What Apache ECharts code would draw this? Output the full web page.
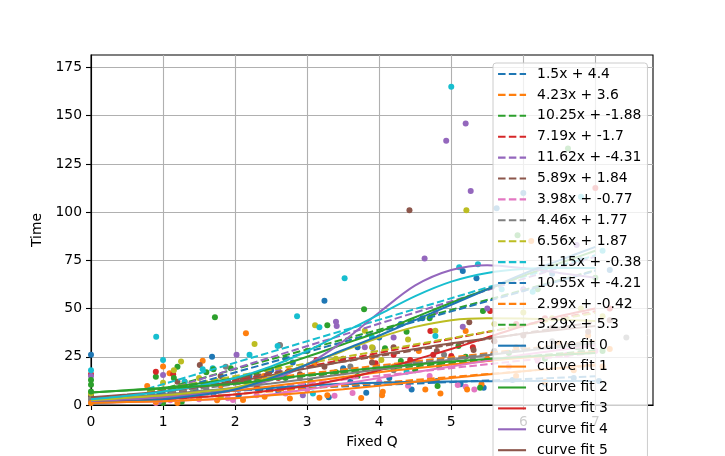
<!DOCTYPE html>
<html>
<head>
<meta charset="utf-8">
<script src="https://cdn.jsdelivr.net/npm/echarts@6/dist/echarts.min.js"></script>
<style>
    html, body { margin: 0; padding: 0; overflow: hidden; background: #fff; }
    #main { width: 725px; height: 640px; }
</style>
</head>
<body>
<div id="main"></div>
<script>
// tab10 colours, one per data set
var colors = ['#1f77b4', '#ff7f0e', '#2ca02c', '#d62728', '#9467bd', '#8c564b', '#e377c2',
              '#7f7f7f', '#bcbd22', '#17becf', '#1f77b4', '#ff7f0e', '#2ca02c'];

// linear fits (legend text)
var slopes = [1.5, 4.23, 10.25, 7.19, 11.62, 5.89, 3.98, 4.46, 6.56, 11.15, 10.55, 2.99, 3.29];
var intercepts = [4.4, 3.6, -1.88, -1.7, -4.31, 1.84, -0.77, 1.77, 1.87, -0.38, -4.21, -0.42, 5.3];
var fitRange = [0.78, 7.0];

// tick labels
var xTicks = [0, 1, 2, 3, 4, 5, 6, 7];
var yTicks = [0, 25, 50, 75, 100, 125, 150, 175];

var curveX = [0, 0.5, 1, 1.5, 2, 2.5, 3, 3.5, 4, 4.5, 5, 5.5, 6, 6.5, 7];
var curve0 = [3.5, 4.2, 5, 6.2, 7.5, 8.8, 10, 11, 11.6, 12, 12.2, 12.3, 12.4, 12.4, 12.4];
var curve1 = [2.5, 3.2, 4, 5.6, 7.5, 9.7, 12, 14.5, 17, 19, 21, 22.8, 24.5, 26, 27.5];
var curve2 = [6.5, 7.7, 9, 11.2, 14, 19, 25, 31.5, 38, 45.5, 53, 60, 67, 73.5, 80];
var curve3 = [1.5, 2.2, 3, 4.1, 5.5, 7.5, 10, 13.5, 18, 23.5, 29, 35, 41, 46, 50];
var curve4 = [2, 2.8, 4, 5.6, 8, 13, 21, 33, 48, 62, 70, 72.5, 71, 68.5, 66];
var curve5 = [4, 5.4, 7, 9.4, 12, 15.5, 19, 22.5, 26, 29, 32, 34.5, 37, 39, 41];
var curve6 = [1, 1.5, 2, 2.7, 3.5, 5.5, 8, 11, 14, 17, 20, 23, 26, 28.5, 31];
var curve7 = [3, 4.2, 5.5, 7.2, 9, 11.2, 13.5, 16, 18.5, 21, 23.5, 25.8, 28, 30, 32];
var curve8 = [2.5, 3.7, 5, 6.8, 9, 14.5, 21, 28, 35, 40.5, 44, 45, 44.8, 44.2, 43.5];
var curve9 = [3, 4.8, 7, 10, 14, 20, 28, 37.5, 47, 56.5, 64, 68.5, 70.5, 71, 71];
var curve10 = [1, 1.8, 3, 5, 8, 14, 21, 28.5, 36, 44, 52, 60, 68, 75, 82];
var curve11 = [1, 1.5, 2, 2.7, 3.5, 5, 6.5, 8.2, 10, 12, 14, 15.8, 17.5, 19.2, 21];
var curve12 = [6.5, 7.5, 8.5, 9.7, 11, 13.2, 15.5, 17.5, 19.5, 21, 22.5, 23.8, 25, 26, 27];

// measured points per data set [Fixed Q, Time]
var points0 = [[0, 4.5], [0, 26], [0.95, 2.5], [1.15, 4], [1.45, 8], [1.7, 6], [2.05, 5], [2.3, 9], [2.6, 7], [2.95, 10], [3.3, 4], [3.6, 12], [3.82, 6.4], [4.14, 14], [4.45, 8], [4.8, 12.5], [5.13, 10.7], [5.45, 9], [5.85, 13], [6.3, 11], [6.7, 14], [7.05, 12.5]];
var points1 = [[0, 3], [0.78, 9.8], [1.0, 20], [1.09, 16.4], [1.3, 12], [1.55, 22.9], [1.8, 10], [2.15, 37.2], [2.4, 15], [2.75, 18], [3.1, 21], [3.5, 17], [3.9, 25], [4.2, 20], [4.55, 28], [5.2, 38.4], [5.5, 24], [5.9, 30], [6.11, 85], [6.5, 32], [6.9, 36], [7.2, 29]];
var points2 = [[0, 10.5], [0.9, 14.7], [1.0, 1], [1.2, 19.9], [1.26, 1.7], [1.6, 17], [1.72, 45.5], [1.94, 19], [2.3, 16], [2.7, 24], [3.0, 28], [3.28, 41.3], [3.79, 49.6], [4.08, 29.4], [4.38, 38], [4.7, 45], [5.1, 30.6], [5.44, 48.7], [5.92, 88], [6.2, 60], [6.62, 133], [7.0, 66]];
var points3 = [[0, 16], [0.9, 17.3], [1.14, 16], [1.3, 6], [1.6, 9], [1.9, 12], [2.3, 10], [2.6, 14], [3.13, 23.3], [3.5, 18], [3.95, 21.6], [4.2, 26], [4.43, 23.3], [4.71, 38.4], [4.75, 26], [5.0, 25.4], [5.3, 30], [5.54, 48.7], [5.9, 42], [6.3, 45], [7.0, 112.5], [7.2, 50]];
var points4 = [[0, 15], [0.95, 2], [1.0, 15.5], [1.35, 5], [1.6, 10], [2.02, 26], [2.3, 13], [2.6, 18], [2.94, 5], [3.4, 43.2], [3.41, 41], [3.8, 30], [4.2, 35], [4.63, 76], [4.78, 48.4], [4.93, 137], [5.16, 40.6], [5.2, 146], [5.27, 111], [5.5, 50], [6.0, 60], [6.74, 83]];
var points5 = [[0, 5], [1.0, 8], [1.2, 12], [1.51, 20.7], [1.8, 15], [2.1, 13], [2.45, 18], [2.62, 31], [2.9, 16], [3.24, 19.9], [3.5, 24], [3.9, 22], [4.2, 30], [4.42, 101], [4.8, 28], [5.25, 42.9], [5.31, 28.5], [5.6, 33], [6.0, 36], [6.4, 40], [6.9, 38], [7.2, 44]];
var points6 = [[0, 2], [0.9, 1], [1.1, 2.5], [1.5, 3], [1.8, 4.5], [1.9, 3.5], [1.97, 2.6], [2.3, 5], [2.7, 6], [3.0, 8], [3.38, 4.8], [3.63, 6.2], [4.0, 12], [4.4, 10], [4.7, 15], [5.09, 10.4], [5.2, 9.5], [5.32, 8], [5.8, 20], [6.2, 23], [6.6, 26], [7.0, 28]];
var points7 = [[0, 3], [1.0, 5], [1.3, 10], [1.6, 8], [1.87, 19.9], [2.2, 11], [2.62, 31.1], [2.9, 14], [3.2, 16], [3.6, 20], [3.91, 29.5], [4.2, 18], [4.5, 22], [4.9, 26], [5.3, 24], [5.6, 28], [6.0, 30], [6.4, 33], [6.8, 29], [7.43, 35]];
var points8 = [[0, 6], [1.0, 11.6], [1.15, 18], [1.25, 22.5], [1.5, 14], [1.8, 4], [2.27, 31.6], [2.6, 20], [3.11, 41.3], [3.4, 24], [3.8, 38.5], [3.9, 30], [4.03, 23.3], [4.4, 34], [4.78, 38.5], [5.21, 101], [5.6, 42], [6.0, 48], [6.4, 45], [6.8, 50], [7.1, 46]];
var points9 = [[0, 18], [0.905, 35.4], [1.0, 23.3], [1.3, 12], [1.55, 18.6], [1.69, 19], [2.2, 26], [2.59, 30.6], [2.86, 46], [3.08, 6], [3.17, 40.3], [3.52, 65.7], [3.9, 35], [4.38, 17.3], [4.78, 35.8], [5.0, 165], [5.11, 71.4], [5.37, 73], [5.7, 60], [6.13, 58.7], [6.8, 108], [7.1, 80]];
var points10 = [[0, 1], [0.9, 3], [1.1, 7], [1.4, 10], [1.68, 25], [1.9, 12], [2.2, 15], [2.5, 18], [2.8, 22], [3.24, 54], [3.5, 19], [3.7, 30], [4.0, 35], [4.3, 42], [4.6, 45], [5.16, 69.5], [5.35, 65.7], [5.63, 102], [6.0, 110], [6.4, 68], [6.8, 75], [7.2, 70]];
var points11 = [[0, 1], [0.9, 1.5], [1.05, 3], [1.2, 1], [1.5, 4], [1.75, 2.5], [2.11, 2.6], [2.41, 4.3], [2.76, 3.4], [3.17, 3.8], [3.28, 5], [3.75, 3.6], [4.05, 6.9], [4.04, 5.1], [4.64, 8.1], [4.85, 6], [5.22, 8], [5.42, 10.8], [5.9, 15], [6.3, 12], [6.7, 18], [7.1, 20]];
var points12 = [[0, 13], [0, 7], [0.95, 6], [1.15, 14], [1.4, 9], [1.7, 18.6], [2.0, 12], [2.35, 8], [2.7, 14], [3.05, 12], [3.4, 17], [3.7, 15], [4.3, 22.8], [4.5, 18], [4.81, 9.8], [4.83, 20.2], [5.2, 25], [5.4, 9], [5.8, 27], [6.3, 24], [6.75, 30], [7.1, 28]];

var allPoints = [points0, points1, points2, points3, points4, points5, points6, points7, points8, points9, points10, points11, points12];
var allCurves = [curve0, curve1, curve2, curve3, curve4, curve5, curve6, curve7, curve8, curve9, curve10, curve11, curve12];

var chart = echarts.init(document.getElementById('main'));

var series = [];
var fitNames = [];
var curveNames = [];

// scatter + dashed linear fit per data set
for (var i = 0; i < allPoints.length; i++) {
    var name = slopes[i] + 'x + ' + intercepts[i];
    fitNames.push(name);
    series.push({
        type: 'scatter',
        name: 'data ' + i,
        data: allPoints[i],
        symbolSize: 6,
        itemStyle: { color: colors[i], opacity: 1 },
        z: 2
    });
    series.push({
        type: 'line',
        name: name,
        data: [
            [fitRange[0], slopes[i] * fitRange[0] + intercepts[i]],
            [fitRange[1], slopes[i] * fitRange[1] + intercepts[i]]
        ],
        symbol: 'none',
        color: colors[i],
        lineStyle: { color: colors[i], width: 2, type: [7.5, 3.3] },
        z: 3
    });
}

// curve fits
for (var j = 0; j < allCurves.length; j++) {
    var cname = 'curve fit ' + j;
    curveNames.push(cname);
    var pts = [];
    for (var k = 0; k < curveX.length; k++) {
        pts.push([curveX[k], allCurves[j][k]]);
    }
    series.push({
        type: 'line',
        name: cname,
        data: pts,
        symbol: 'none',
        smooth: 0.3,
        color: colors[j],
        lineStyle: { color: colors[j], width: 2 },
        z: 3
    });
}

var axisText = { fontFamily: 'DejaVu Sans', fontSize: 13.9, color: '#000' };

var option = {
    animation: false,
    backgroundColor: '#fff',
    grid: {
        left: 91, top: 55, width: 562, height: 350,
        show: true, borderColor: '#000', borderWidth: 1.1,
        backgroundColor: 'transparent'
    },
    legend: {
        data: fitNames.concat(curveNames),
        orient: 'vertical',
        left: 493,
        top: 63,
        padding: [4, 6, 4, 4],
        itemWidth: 28,
        itemHeight: 14,
        itemGap: 6.9,
        backgroundColor: 'rgba(255,255,255,0.8)',
        borderColor: '#cccccc',
        borderWidth: 1,
        borderRadius: 3,
        selectedMode: false,
        itemStyle: { opacity: 0 },
        lineStyle: { width: 2.1 },
        textStyle: { fontFamily: 'DejaVu Sans', fontSize: 13.9, color: '#000', padding: [0, 0, 0, 6] }
    },
    xAxis: {
        type: 'value',
        min: 0,
        max: 7.8,
        interval: 1,
        name: 'Fixed Q',
        nameLocation: 'middle',
        nameGap: 30,
        nameTextStyle: axisText,
        axisLine: { show: true, onZero: false, lineStyle: { color: '#000', width: 1.1 } },
        axisTick: { show: true, length: 5, lineStyle: { color: '#000', width: 1.1 }, customValues: xTicks },
        axisLabel: Object.assign({ margin: 10, customValues: xTicks }, axisText),
        splitLine: { show: true, lineStyle: { color: '#b0b0b0', width: 1.1 } }
    },
    yAxis: {
        type: 'value',
        min: 0,
        max: 181.5,
        interval: 25,
        name: 'Time',
        nameLocation: 'middle',
        nameGap: 38,
        nameRotate: 90,
        nameTextStyle: axisText,
        axisLine: { show: true, onZero: false, lineStyle: { color: '#000', width: 1.1 } },
        axisTick: { show: true, length: 5, lineStyle: { color: '#000', width: 1.1 }, customValues: yTicks },
        axisLabel: Object.assign({ margin: 9, customValues: yTicks }, axisText),
        splitLine: { show: true, lineStyle: { color: '#b0b0b0', width: 1.1 } }
    },
    series: series
};

chart.setOption(option);
</script>
</body>
</html>
